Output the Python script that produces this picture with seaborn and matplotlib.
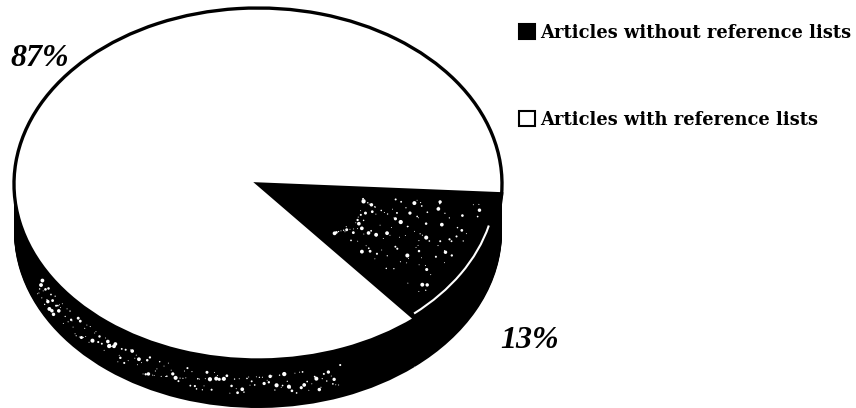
import numpy as np
import matplotlib.pyplot as plt
from matplotlib.patches import Patch, Arc
import seaborn as sns

labels = ['Articles without reference lists', 'Articles with reference lists']
shares = [13, 87]
pct_labels = ['13%', '87%']

sns.set_theme(style="white")
plt.rcParams['font.family'] = ['DejaVu Serif']

# pie is squashed into an ellipse: 244 px wide radius, 176 px high radius
W, H = 856, 408
CX, CY, RX, RY = 258, 184, 244, 176
DEPTH = 48 / RY
START = -50


def speckle(n, t0, t1, u_to_xy):
    """Print-grain texture, not data: scattered white flecks along a band."""
    k = np.arange(1, n + 1)
    u = (k * 0.61803) % 1
    v = (k * k * 0.41421) % 1
    s = 0.5 + 9 * ((k * k * 0.27183) % 1) ** 4
    x, y = u_to_xy(np.radians(t0 + (t1 - t0) * u), v)
    ax.scatter(x, y, s=s, c='white', linewidths=0, zorder=3)


fig, ax = plt.subplots(figsize=(W / 100, H / 100), dpi=100)
fig.subplots_adjust(0, 0, 1, 1)

# side of the disc: stacked black pies going down
for off in np.linspace(DEPTH, 0.01, 40):
    ax.pie(shares, startangle=START, center=(0, -off), colors=['black', 'black'],
           wedgeprops={'linewidth': 0})

# top surface
wedges, _ = ax.pie(shares, startangle=START, colors=['black', 'white'],
                   wedgeprops={'linewidth': 2.4, 'edgecolor': 'black'})

ax.set_aspect('auto')
ax.set_xlim(-CX / RX, (W - CX) / RX)
ax.set_ylim((CY - H) / RY, CY / RY)

# grain on the dark slice and on the side wall
speckle(130, -43, -7, lambda t, v: ((0.42 + 0.5 * v) * np.cos(t), (0.42 + 0.5 * v) * np.sin(t)))
speckle(170, 205, 290, lambda t, v: (np.cos(t), np.sin(t) - 0.08 - 0.12 * v))

# white crack along the rim of the dark slice
ax.add_patch(Arc((0, 0), 1.95, 1.95, theta1=-49, theta2=-14, color='white', lw=1.5, zorder=4))


def px(x, y):
    return (x - CX) / RX, (CY - y) / RY


ax.text(*px(530, 341), pct_labels[0], fontsize=23, fontweight='bold', style='italic',
        family='Liberation Serif', ha='center', va='center', color='black')
ax.text(*px(40, 58), pct_labels[1], fontsize=23, fontweight='bold', style='italic',
        family='Liberation Serif', ha='center', va='center', color='black')

handles = [Patch(facecolor='black', edgecolor='black', linewidth=1.5),
           Patch(facecolor='white', edgecolor='black', linewidth=1.5)]
ax.legend(handles, labels, loc='upper left', bbox_to_anchor=(519 / W, 1 - 24 / H),
          bbox_transform=fig.transFigure, frameon=False, labelcolor='black',
          prop={'family': 'DejaVu Serif', 'weight': 'bold', 'size': 12.85},
          handlelength=0.9, handleheight=0.9, handletextpad=0.3, labelspacing=3.85,
          borderpad=0, borderaxespad=0)

fig.savefig('out.png', dpi=100, facecolor='white')
